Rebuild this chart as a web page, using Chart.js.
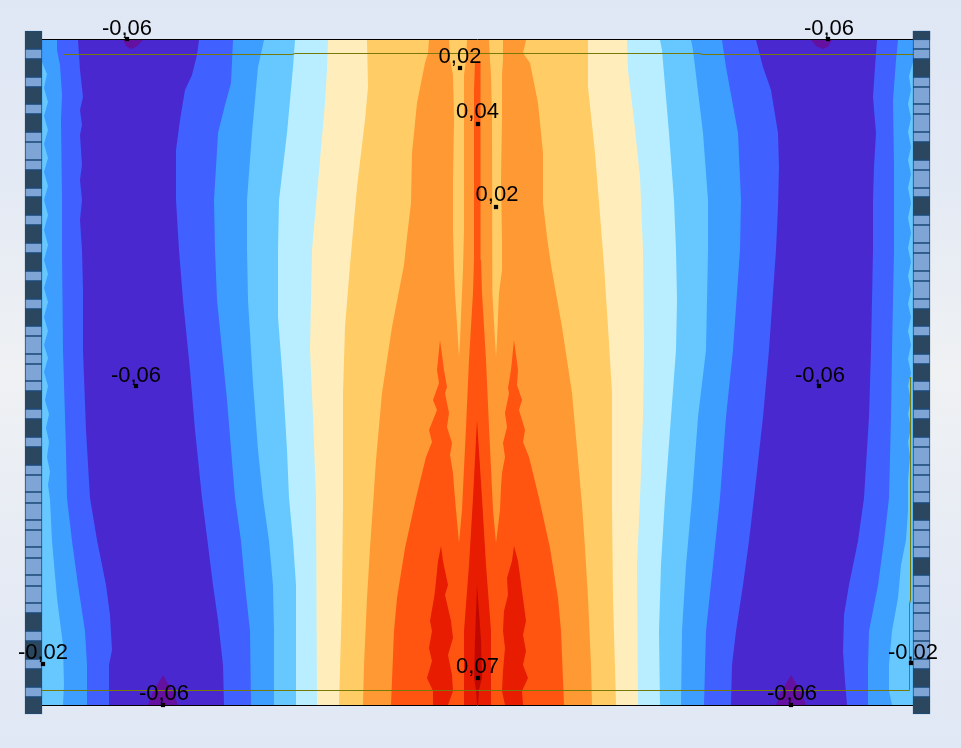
<!DOCTYPE html>
<html>
<head>
<meta charset="utf-8">
<title>Contour plot</title>
<script src="https://cdn.jsdelivr.net/npm/chart.js@4"></script>
<style>
  html, body { margin: 0; padding: 0; height: 100%; }
  body { background: linear-gradient(to bottom, #dfe7f5 0%, #e4eaf4 25%, #eff1f3 50%, #e6ebf4 75%, #e0e8f5 100%); overflow: hidden; }
  canvas { display: block; }
</style>
</head>
<body>
<canvas id="plate" width="961" height="748"></canvas>
<script>
// contour boundaries, each point is [x, y] on the plate
const plateLeft = [[42, 40], [42, 705]];
const plateRight = [[913, 40], [913, 705]];

// outer strips, left side
const edgeLightL = [[42, 62], [47, 74], [44, 88], [48, 102], [44, 116], [48, 130], [44, 144], [48, 158], [44, 172], [48, 186], [44, 200], [48, 215], [44, 230], [48, 245], [44, 260], [48, 274], [44, 288], [48, 302], [44, 317], [48, 331], [44, 345], [48, 358], [44, 372], [48, 386], [45, 400], [49, 414], [46, 428], [49, 442], [47, 457], [50, 472], [48, 485], [50, 500], [52, 541], [57, 598], [63, 645], [64, 685], [63, 705]];
const edgeMidL = [[57, 40], [57, 50], [60, 65], [62, 95], [61, 120], [62, 200], [62, 250], [63, 350], [66, 450], [67, 498], [72, 541], [78, 585], [85, 631], [87, 665], [87, 705]];
const edgeBlueL = [[78, 40], [80, 70], [83, 97], [80, 110], [82, 125], [80, 135], [82, 165], [80, 180], [82, 200], [80, 220], [82, 250], [83, 290], [83, 350], [86, 430], [90, 498], [97, 540], [106, 585], [110, 615], [112, 650], [109, 665], [109, 705]];

// outer strips, right side
const edgeLightR = [[913, 62], [909, 76], [911, 90], [908, 104], [911, 118], [908, 132], [911, 147], [908, 160], [911, 174], [908, 188], [911, 203], [908, 218], [911, 233], [908, 248], [911, 262], [908, 276], [911, 290], [908, 304], [911, 317], [908, 331], [911, 345], [908, 359], [911, 373], [908, 386], [911, 400], [908, 414], [911, 428], [908, 442], [910, 457], [908, 480], [908, 511], [906, 540], [901, 565], [898, 598], [892, 631], [889, 665], [889, 691], [892, 705]];
const edgeMidR = [[898, 40], [896, 60], [893, 100], [894, 167], [894, 250], [892, 350], [891, 417], [889, 498], [884, 541], [878, 585], [869, 631], [868, 665], [868, 705]];
const edgeBlueR = [[877, 40], [875, 67], [873, 97], [876, 133], [874, 167], [873, 200], [873, 250], [871, 350], [869, 417], [864, 498], [858, 541], [849, 585], [844, 615], [843, 651], [845, 681], [847, 705]];

// nested bands around the centre, low to high
const blueL = [[199, 40], [197, 55], [192, 75], [185, 90], [180, 120], [176, 150], [176, 200], [179, 250], [183, 300], [190, 370], [195, 430], [202, 498], [208, 545], [213, 585], [218, 620], [223, 665], [224, 705]];
const blueR = [[756, 40], [763, 67], [771, 90], [778, 133], [779, 167], [778, 207], [776, 250], [769, 350], [763, 417], [754, 498], [749, 541], [743, 585], [736, 631], [732, 665], [731, 705]];
const midL = [[233, 40], [231, 83], [225, 105], [218, 133], [216, 167], [214, 200], [215, 250], [217, 300], [222, 350], [227, 400], [235, 498], [241, 541], [245, 585], [250, 631], [251, 705]];
const midR = [[722, 40], [726, 67], [738, 133], [741, 200], [740, 250], [733, 350], [726, 417], [720, 498], [713, 565], [706, 631], [704, 705]];
const lightL = [[264, 40], [258, 67], [252, 133], [247, 200], [247, 250], [248, 300], [253, 383], [258, 450], [263, 498], [269, 541], [273, 585], [274, 631], [274, 705]];
const lightR = [[691, 40], [693, 50], [703, 133], [708, 200], [708, 250], [706, 350], [698, 417], [692, 498], [686, 565], [682, 631], [681, 705]];
const paleL = [[295, 40], [293, 67], [287, 133], [279, 200], [278, 250], [278, 317], [283, 383], [287, 450], [289, 498], [293, 541], [296, 585], [296, 705]];
const paleR = [[660, 40], [662, 50], [669, 133], [674, 200], [676, 250], [677, 300], [676, 350], [671, 417], [665, 498], [661, 565], [659, 631], [660, 705]];
const creamL = [[328, 40], [327, 70], [325, 103], [320, 160], [312, 250], [310, 350], [313, 417], [316, 498], [317, 705]];
const creamR = [[627, 40], [628, 70], [634, 120], [640, 177], [643, 250], [644, 350], [643, 417], [640, 498], [637, 565], [638, 705]];
const sandL = [[367, 40], [368, 87], [365, 120], [357, 187], [350, 265], [345, 327], [343, 393], [343, 505], [342, 598], [339, 705]];
const sandR = [[588, 40], [588, 87], [595, 153], [604, 265], [608, 327], [612, 393], [612, 505], [613, 598], [616, 705]];
const orangeL = [[429, 40], [428, 53], [425, 63], [417, 103], [412, 153], [411, 203], [407, 237], [404, 265], [392, 327], [382, 393], [376, 460], [373, 505], [370, 548], [367, 598], [364, 665], [363, 705]];
const orangeR = [[526, 40], [523, 53], [530, 63], [538, 103], [543, 153], [543, 203], [547, 237], [551, 265], [562, 327], [572, 393], [578, 460], [582, 505], [585, 548], [588, 598], [591, 665], [592, 705]];

// sand coloured slits inside the orange
const slitLeft = [[449, 40], [450, 60], [453, 75], [454, 120], [453, 180], [453, 230], [454, 270], [455, 293], [458, 340], [459, 357], [460, 340], [462, 293], [463, 270], [464, 230], [464, 120], [464, 75], [466, 60], [467, 40]];
const slitRight = [[489, 40], [490, 60], [491, 75], [492, 120], [492, 240], [492, 270], [493, 293], [495, 340], [496, 357], [497, 340], [499, 293], [502, 270], [502, 240], [501, 180], [502, 120], [502, 75], [503, 60], [503, 40]];

// red orange outline: both flames and the centre stripe
const scarlet = [[440, 340], [437, 370], [439, 383], [433, 400], [437, 410], [429, 430], [432, 442], [426, 457], [416, 498], [405, 548], [397, 598], [394, 631], [391, 705], [564, 705], [561, 631], [558, 598], [550, 548], [539, 498], [529, 457], [523, 442], [525, 430], [519, 410], [522, 400], [517, 385], [518, 370], [514, 340], [511, 370], [508, 388], [509, 393], [505, 413], [507, 427], [503, 443], [505, 457], [502, 473], [501, 487], [500, 510], [496, 543], [493, 510], [489, 427], [486, 360], [482, 293], [481, 260], [481, 90], [480, 62], [475, 62], [474, 90], [474, 260], [473, 293], [469, 360], [466, 427], [462, 510], [459, 543], [456, 510], [454, 487], [453, 473], [450, 455], [452, 443], [447, 427], [449, 413], [445, 393], [447, 387], [444, 370]];

// red peaks
const redCentre = [[477, 420], [482, 498], [486, 565], [491, 631], [491, 705], [464, 705], [464, 631], [469, 565], [473, 498]];
const redLeft = [[441, 546], [438, 561], [435, 591], [434, 598], [430, 621], [432, 631], [429, 648], [432, 661], [427, 678], [433, 691], [433, 705], [448, 705], [453, 691], [452, 675], [448, 655], [453, 638], [451, 621], [445, 595], [448, 585], [443, 561]];
const redRight = [[514, 546], [518, 561], [522, 591], [526, 621], [523, 635], [526, 651], [523, 665], [528, 678], [522, 691], [523, 705], [505, 705], [502, 691], [503, 671], [505, 648], [503, 631], [504, 611], [508, 595], [507, 578], [512, 561]];
const redCore = [[477, 585], [481, 640], [482, 678], [479, 690], [478, 705], [477, 705], [476, 690], [474, 678], [475, 640]];

// purple minima at the plate edges
const minTopLeft = [[123, 40], [126, 46], [131, 49], [136, 47], [143, 40]];
const minTopRight = [[811, 40], [816, 46], [823, 49], [828, 47], [832, 40]];
const minBottomLeft = [[148, 705], [153, 692], [163, 675], [173, 692], [178, 705]];
const minBottomRight = [[776, 705], [781, 692], [791, 675], [801, 692], [806, 705]];

// thin lines
const frameTop = [[42, 39.5], [913, 39.5]];
const frameBottom = [[42, 705.5], [913, 705.5]];
const oliveTop = [[63, 54.5], [292, 54.5], [295, 53.5], [699, 53.5], [703, 54.5], [913, 54.5]];
const oliveBottom = [[42, 690.5], [909.5, 690.5], [909.5, 604], [910.5, 600], [910.5, 377]];

// side columns: row edges from top to bottom, and the rows that start dark
const rowEdges = [31, 49, 59, 77, 87, 104, 114, 132, 142, 160, 170, 188, 197, 215, 225, 243, 253, 271, 281, 299, 309, 326, 336, 354, 364, 381, 391, 409, 419, 437, 447, 465, 475, 492, 503, 520, 530, 547, 558, 575, 586, 603, 613, 631, 641, 659, 669, 687, 697, 714];
const darkRowsLeft = [31, 59, 87, 114, 170, 197, 225, 253, 281, 309, 391, 419, 447, 613, 641, 669, 697];
const darkRowsRight = [59, 142, 197, 309, 336, 364, 391, 419, 503, 558, 669, 697];

// value labels and their marker points
const labelTexts = ['-0,06', '-0,06', '0,02', '0,04', '0,02', '-0,06', '-0,06', '-0,02', '-0,02', '-0,06', '-0,06', '0,07'];
const labelX = [127, 829, 460, 477.5, 497, 136, 820, 43, 913, 164, 792, 477.5];
const labelY = [35, 35, 63, 118, 201, 382, 382, 659, 659, 700, 700, 673];
const markerX = [127, 828, 460, 478, 496, 136, 819, 43, 911, 163, 791, 478];
const markerY = [39, 39, 68, 124, 207, 386, 386, 664, 663, 705, 705, 678];

const toPoints = pts => pts.map(p => ({ x: p[0], y: p[1] }));
const band = (left, right) => toPoints(left.concat(right.slice().reverse()));

const datasets = [];
function area(points, color) {
  datasets.push({
    type: 'scatter', data: points, showLine: true, fill: 'shape', tension: 0,
    backgroundColor: color, borderColor: 'transparent', borderWidth: 0, pointRadius: 0
  });
}
function stroke(pts, color) {
  datasets.push({
    type: 'scatter', data: toPoints(pts), showLine: true, fill: false, tension: 0,
    borderColor: color, borderWidth: 1, pointRadius: 0
  });
}
function column(x, edges, isDark, color) {
  const rows = [];
  for (let i = 0; i < edges.length - 1; i++) {
    if (isDark(edges[i])) rows.push({ x: x, y: [edges[i], edges[i + 1]] });
  }
  datasets.push({
    type: 'bar', data: rows, grouped: false, barThickness: 17,
    backgroundColor: color, borderColor: '#1d4a76', borderWidth: 1, borderSkipped: false
  });
}

const INDIGO = '#4a28d0', BLUE = '#4060ff', MID = '#3d9eff', LIGHT = '#66c8ff', PALE = '#b8eeff';
const CREAM = '#ffeebb', SAND = '#ffcc66', ORANGE = '#ff9933', SCARLET = '#ff5511', RED = '#e81c00', CORE = '#c00800', PURPLE = '#6410a0';

area(band(plateLeft, plateRight), INDIGO);
area(band(blueL, blueR), BLUE);
area(band(midL, midR), MID);
area(band(lightL, lightR), LIGHT);
area(band(paleL, paleR), PALE);
area(band(creamL, creamR), CREAM);
area(band(sandL, sandR), SAND);
area(band(orangeL, orangeR), ORANGE);
area(toPoints(slitLeft), SAND);
area(toPoints(slitRight), SAND);
area(toPoints(scarlet), SCARLET);
area(toPoints(redCentre), RED);
area(toPoints(redLeft), RED);
area(toPoints(redRight), RED);
area(toPoints(redCore), CORE);

area(band(plateLeft, edgeBlueL), BLUE);
area(band(plateLeft, edgeMidL), MID);
area(band([[42, 62], [42, 705]], edgeLightL), LIGHT);
area(band(edgeBlueR, plateRight), BLUE);
area(band(edgeMidR, plateRight), MID);
area(band(edgeLightR, [[913, 62], [913, 705]]), LIGHT);

area(toPoints(minTopLeft), PURPLE);
area(toPoints(minTopRight), PURPLE);
area(toPoints(minBottomLeft), PURPLE);
area(toPoints(minBottomRight), PURPLE);

stroke(oliveTop, '#757a08');
stroke(oliveBottom, '#757a08');
stroke(frameTop, '#000000');
stroke(frameBottom, '#000000');

column(33.5, rowEdges, y => !darkRowsLeft.includes(y), '#7ea5d6');
column(33.5, rowEdges, y => darkRowsLeft.includes(y), '#2a475f');
column(921.5, rowEdges, y => !darkRowsRight.includes(y), '#7ea5d6');
column(921.5, rowEdges, y => darkRowsRight.includes(y), '#2a475f');
column(921.5, [31, 40], () => true, '#2a475f');

datasets.push({
  type: 'scatter',
  data: markerX.map((x, i) => ({ x: x, y: markerY[i] })),
  pointStyle: 'rect', pointRadius: 3, pointBackgroundColor: '#000000', pointBorderWidth: 0
});

// first dataset in the array is painted first
datasets.forEach((d, i) => { d.order = -i; });

const valueLabels = {
  id: 'valueLabels',
  afterDatasetsDraw(chart) {
    const { ctx, scales } = chart;
    ctx.save();
    ctx.font = '22px "Liberation Sans", Arial, sans-serif';
    ctx.fillStyle = '#000000';
    ctx.textAlign = 'center';
    ctx.textBaseline = 'alphabetic';
    labelTexts.forEach((t, i) => {
      ctx.fillText(t, scales.x.getPixelForValue(labelX[i]), scales.y.getPixelForValue(labelY[i]));
    });
    ctx.restore();
  }
};

new Chart(document.getElementById('plate').getContext('2d'), {
  type: 'scatter',
  data: { datasets: datasets },
  plugins: [valueLabels],
  options: {
    responsive: false,
    animation: false,
    layout: { padding: 0, autoPadding: false },
    plugins: { legend: { display: false }, tooltip: { enabled: false }, title: { display: false } },
    scales: {
      x: { type: 'linear', min: 0, max: 961, display: false, offset: false },
      y: { type: 'linear', min: 0, max: 748, reverse: true, display: false, offset: false }
    }
  }
});
</script>
</body>
</html>
